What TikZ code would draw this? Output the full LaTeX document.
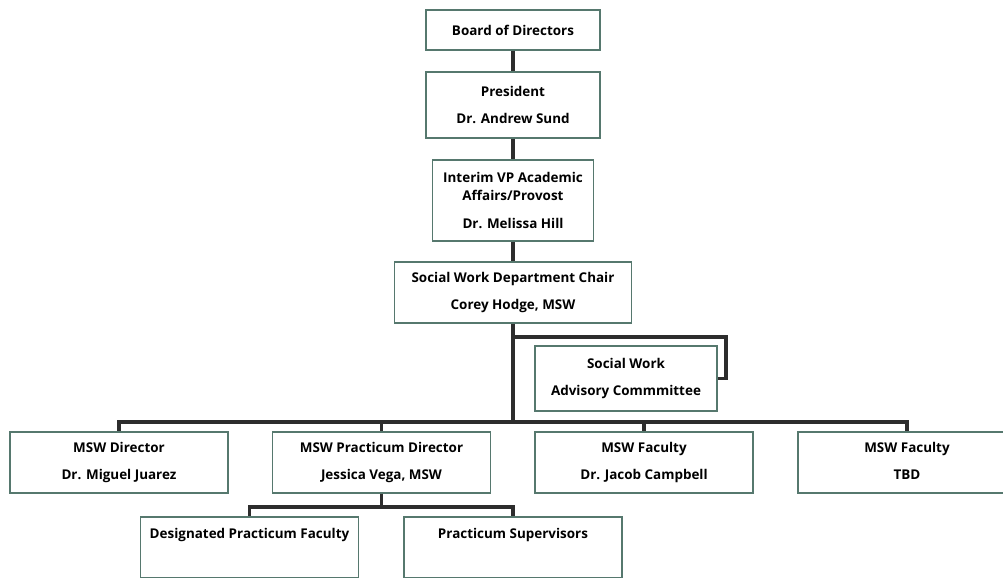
\documentclass[tikz,border=0pt]{standalone}
\usepackage{fontspec}
\setmainfont{Open Sans}
\definecolor{boxgreen}{RGB}{86, 120, 110}
\definecolor{linegray}{RGB}{45, 45, 45}
\usepackage{tikz}
\usetikzlibrary{positioning, calc}

\begin{document}
\begin{tikzpicture}[
  unit/.style={draw=boxgreen, fill=white, line width=0.8pt, minimum width=#1, align=center, inner sep=0pt, font=\fontsize{7.65}{10.2}\selectfont\bfseries},
  link/.style={line width=2pt, draw=linegray},
]
  \useasboundingbox (0, 0) rectangle (20.06, -11.54);

  % Top of the chain
  \node[unit=3.48cm, minimum height=0.8cm] (board) at (10.26, -0.6) {Board of Directors};
  \node[unit=3.48cm, minimum height=1.32cm] (pres) at (10.26, -2.1) {President\\[5.4pt]Dr. Andrew Sund};
  \node[unit=3.22cm, minimum height=1.62cm] (vp) at (10.26, -4.01) {Interim VP Academic\\Affairs/Provost\\[5.4pt]Dr. Melissa Hill};
  \node[unit=4.74cm, minimum height=1.22cm] (chair) at (10.26, -5.85) {Social Work Department Chair\\[5.4pt]Corey Hodge, MSW};

  \draw[link] (board) -- (pres);
  \draw[link] (pres) -- (vp);
  \draw[link] (vp) -- (chair);

  % Advisory committee
  \node[unit=3.64cm, minimum height=1.3cm] (adv) at (12.52, -7.57) {Social Work\\[5.4pt]Advisory Commmittee};
  \coordinate (advhub) at (10.26, -6.74);
  \coordinate (advbend) at (14.52, -6.74);
  \draw[link] (advhub) -- (advbend) |- (adv.east);

  % Department staff
  \node[unit=4.36cm, minimum height=1.22cm] (dir) at (2.38, -9.25) {MSW Director\\[5.4pt]Dr. Miguel Juarez};
  \node[unit=4.36cm, minimum height=1.22cm] (prac) at (7.63, -9.25) {MSW Practicum Director\\[5.4pt]Jessica Vega, MSW};
  \node[unit=4.36cm, minimum height=1.22cm] (fac1) at (12.88, -9.25) {MSW Faculty\\[5.4pt]Dr. Jacob Campbell};
  \node[unit=4.36cm, minimum height=1.22cm] (fac2) at (18.14, -9.25) {MSW Faculty\\[5.4pt]TBD\vphantom{g}};

  \coordinate (hub) at (10.26, -8.44);
  \draw[link] (chair) -- (hub);
  \foreach \n in {dir, prac, fac1, fac2}
    \draw[link] (hub) -| (\n.north);

  % Practicum
  \node[unit=4.36cm, minimum height=1.22cm] (desig) at (4.99, -10.95) {Designated Practicum Faculty\\[5.4pt]~};
  \node[unit=4.36cm, minimum height=1.22cm] (sup) at (10.26, -10.95) {Practicum Supervisors\\[5.4pt]~};

  \coordinate (subhub) at (7.63, -10.14);
  \draw[link] (prac) -- (subhub);
  \foreach \n in {desig, sup}
    \draw[link] (subhub) -| (\n.north);
\end{tikzpicture}
\end{document}
